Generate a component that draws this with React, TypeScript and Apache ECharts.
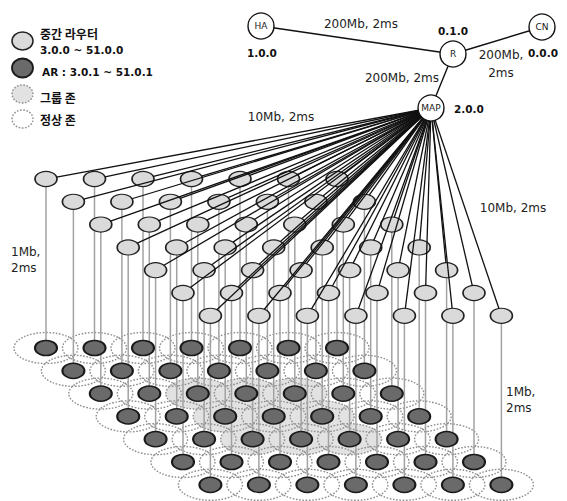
import React, { useEffect, useRef } from "react";
import * as echarts from "echarts";

// ---- data ----
const routerRowCount = 7;
const routerColCount = 7;
const groupZoneRows = [2, 3, 4];
const groupZoneCols = [2, 3, 4];
const coreNodes = ["HA", "R", "CN", "MAP"];
const coreAddresses = ["1.0.0", "0.1.0", "0.0.0", "2.0.0"];
const coreLinks: [string, string][] = [["HA", "R"], ["R", "CN"], ["R", "MAP"]];
const coreLinkLabels = ["200Mb, 2ms", "200Mb,\n2ms", "200Mb, 2ms"];
const accessLinkLabel = "10Mb, 2ms";
const lastMileLabel = "1Mb,\n2ms";
const legendLabels = ["중간 라우터", "3.0.0 ~ 51.0.0", "AR : 3.0.1 ~ 51.0.1", "그룹 존", "정상 존"];

// ---- layout ----
const W = 567, H = 501;
const X0 = 46, DX = 48.5, ROW_DX = 27.4, Y0 = 179, ROW_DY = 22.8, AR_DY = 169;
const NODE_RX = 11, NODE_RY = 7.5, ZONE_RX = 32, ZONE_RY = 15.5;
const corePos: Record<string, [number, number]> = { HA: [261, 26], R: [453, 54], CN: [542, 27], MAP: [431, 108] };

type Node = { x: number; y: number; ay: number; r: number; c: number; name: string };
const routers: Node[] = [];
for (let r = 0; r < routerRowCount; r++) {
  for (let c = 0; c < routerColCount; c++) {
    const x = X0 + ROW_DX * r + DX * c;
    const y = Y0 + ROW_DY * r;
    routers.push({ x, y, ay: y + AR_DY, r, c, name: `${3 + r * routerColCount + c}.0.0` });
  }
}
const isGroup = (n: Node) => groupZoneRows.includes(n.r) && groupZoneCols.includes(n.c);

const FONT = "DejaVu Sans";
const KFONT = "'Noto Sans CJK KR', 'DejaVu Sans'";

export default function App() {
  const ref = useRef<HTMLDivElement>(null);
  useEffect(() => {
    if (!ref.current) return;
    const chart = echarts.init(ref.current, undefined, { renderer: "svg" });
    const ellipseItem = (fill: string, stroke: string, dash: number[] | null, lw: number) =>
      (params: any, api: any) => {
        const p = api.coord([api.value(0), api.value(1)]);
        const s = api.size([ZONE_RX, ZONE_RY]);
        return {
          type: "ellipse",
          shape: { cx: p[0], cy: p[1], rx: Math.abs(s[0]), ry: Math.abs(s[1]) },
          style: { fill, stroke, lineWidth: lw, lineDash: dash || undefined },
        };
      };
    const mapP = corePos.MAP;
    const option: any = {
      animation: false,
      grid: { left: 0, right: 0, top: 0, bottom: 0 },
      xAxis: { type: "value", min: 0, max: W, show: false },
      yAxis: { type: "value", min: 0, max: H, inverse: true, show: false },
      series: [
        {
          type: "custom", z: 1, silent: true,
          data: routers.filter(isGroup).map((n) => [n.x, n.ay]),
          renderItem: ellipseItem("#e2e2e2", "none", null, 0),
        },
        {
          type: "custom", z: 2, silent: true,
          data: routers.map((n) => [n.x, n.ay]),
          renderItem: ellipseItem("none", "#8e8e8e", [1.6, 1.6], 1.4),
        },
        {
          type: "custom", z: 3, silent: true,
          data: routers.map((n) => [n.x, n.y, n.ay]),
          renderItem: (params: any, api: any) => {
            const a = api.coord([api.value(0), api.value(1)]);
            const b = api.coord([api.value(0), api.value(2)]);
            return { type: "line", shape: { x1: a[0], y1: a[1] + NODE_RY, x2: b[0], y2: b[1] - NODE_RY }, style: { stroke: "#a2a2a2", lineWidth: 1.5 } };
          },
        },
        {
          type: "scatter", z: 4, silent: true, symbol: "circle", symbolSize: [NODE_RX * 2, NODE_RY * 2],
          itemStyle: { color: "#dadada", borderColor: "#222", borderWidth: 1.4, opacity: 1 },
          data: routers.map((n) => [n.x, n.y]),
        },
        {
          type: "scatter", z: 4, silent: true, symbol: "circle", symbolSize: [NODE_RX * 2, NODE_RY * 2],
          itemStyle: { color: "#6a6a6a", borderColor: "#1a1a1a", borderWidth: 1.8, opacity: 1 },
          data: routers.map((n) => [n.x, n.ay]),
        },
        {
          type: "custom", z: 5, silent: true,
          data: routers.map((n) => [n.x, n.y]),
          renderItem: (params: any, api: any) => {
            const m = api.coord(mapP);
            const p = api.coord([api.value(0), api.value(1)]);
            const dx = m[0] - p[0], dy = m[1] - p[1];
            const t = 1 / Math.sqrt((dx / NODE_RX) ** 2 + (dy / NODE_RY) ** 2);
            return { type: "line", shape: { x1: m[0], y1: m[1], x2: p[0] + dx * t, y2: p[1] + dy * t }, style: { stroke: "#111", lineWidth: 1.3 } };
          },
        },
        {
          type: "custom", z: 5, silent: true,
          data: coreLinks.map(([a, b]) => [...corePos[a], ...corePos[b]]),
          renderItem: (params: any, api: any) => {
            const a = api.coord([api.value(0), api.value(1)]);
            const b = api.coord([api.value(2), api.value(3)]);
            return { type: "line", shape: { x1: a[0], y1: a[1], x2: b[0], y2: b[1] }, style: { stroke: "#111", lineWidth: 1.4 } };
          },
        },
        {
          type: "scatter", z: 6, silent: true, symbol: "circle",
          symbolSize: (v: any, p: any) => (p.name === "MAP" ? 26 : 26),
          itemStyle: { color: "#fff", borderColor: "#111", borderWidth: 1.4, opacity: 1 },
          label: { show: true, position: "inside", formatter: "{b}", color: "#222", fontFamily: FONT, fontSize: 9 },
          data: coreNodes.map((n) => ({ name: n, value: corePos[n] })),
        },
      ],
      graphic: [
        // core addresses
        { type: "text", left: 247, top: 47, style: { text: coreAddresses[0], font: `bold 10.5px ${FONT}`, fill: "#111" } },
        { type: "text", x: 453, y: 31, style: { text: coreAddresses[1], font: `bold 10.5px ${FONT}`, fill: "#111", align: "center", verticalAlign: "middle" } },
        { type: "text", x: 543, y: 53, style: { text: coreAddresses[2], font: `bold 10.5px ${FONT}`, fill: "#111", align: "center", verticalAlign: "middle" } },
        { type: "text", x: 454, y: 109, style: { text: coreAddresses[3], font: `bold 10.5px ${FONT}`, fill: "#111", align: "left", verticalAlign: "middle" } },
        // link labels
        { type: "text", x: 361, y: 24, style: { text: coreLinkLabels[0], font: `12px ${FONT}`, fill: "#222", align: "center", verticalAlign: "middle" } },
        { type: "text", x: 501, y: 64, style: { text: coreLinkLabels[1], font: `12px ${FONT}`, lineHeight: 18, fill: "#222", align: "center", verticalAlign: "middle" } },
        { type: "text", x: 402, y: 78, style: { text: coreLinkLabels[2], font: `12px ${FONT}`, fill: "#222", align: "center", verticalAlign: "middle" } },
        { type: "text", x: 281, y: 117, style: { text: accessLinkLabel, font: `12px ${FONT}`, fill: "#222", align: "center", verticalAlign: "middle" } },
        { type: "text", x: 513, y: 208, style: { text: accessLinkLabel, font: `12px ${FONT}`, fill: "#222", align: "center", verticalAlign: "middle" } },
        { type: "text", x: 11, y: 260, style: { text: lastMileLabel, font: `12px ${FONT}`, lineHeight: 16, fill: "#222", align: "left", verticalAlign: "middle" } },
        { type: "text", x: 506, y: 400, style: { text: lastMileLabel, font: `12px ${FONT}`, lineHeight: 16, fill: "#222", align: "left", verticalAlign: "middle" } },
        // legend
        { type: "ellipse", shape: { cx: 22.5, cy: 41, rx: 10.5, ry: 9 }, style: { fill: "#dadada", stroke: "#222", lineWidth: 1.5 } },
        { type: "ellipse", shape: { cx: 22.5, cy: 68, rx: 10.5, ry: 9.5 }, style: { fill: "#6a6a6a", stroke: "#1a1a1a", lineWidth: 1.8 } },
        { type: "ellipse", shape: { cx: 22.5, cy: 94, rx: 10.5, ry: 9 }, style: { fill: "#e2e2e2", stroke: "#8e8e8e", lineWidth: 1.4, lineDash: [1.6, 1.6] } },
        { type: "ellipse", shape: { cx: 22.5, cy: 119, rx: 10.5, ry: 9 }, style: { fill: "none", stroke: "#8e8e8e", lineWidth: 1.4, lineDash: [1.6, 1.6] } },
        { type: "text", x: 40, y: 33, style: { text: legendLabels[0], font: `bold 12px ${KFONT}`, fill: "#111", verticalAlign: "middle" } },
        { type: "text", x: 40, y: 50, style: { text: legendLabels[1], font: `bold 10.5px ${FONT}`, fill: "#111", verticalAlign: "middle" } },
        { type: "text", x: 42, y: 72, style: { text: legendLabels[2], font: `bold 10.5px ${FONT}`, fill: "#111", verticalAlign: "middle" } },
        { type: "text", x: 40, y: 97, style: { text: legendLabels[3], font: `bold 12px ${KFONT}`, fill: "#111", verticalAlign: "middle" } },
        { type: "text", x: 40, y: 119, style: { text: legendLabels[4], font: `bold 12px ${KFONT}`, fill: "#111", verticalAlign: "middle" } },
      ],
    };
    chart.setOption(option);
    return () => chart.dispose();
  }, []);
  return <div ref={ref} style={{ position: "absolute", left: 0, top: 0, width: W, height: H, background: "#fff" }} />;
}
